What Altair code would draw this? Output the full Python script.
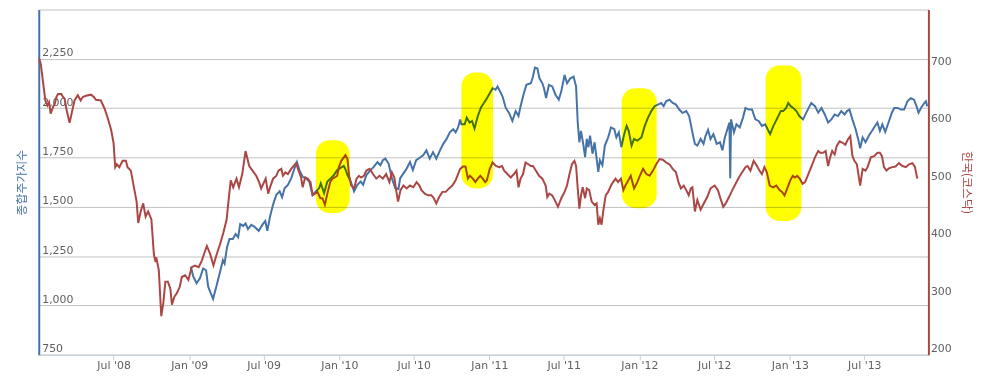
import altair as alt
import pandas as pd

# KOSPI (left axis, 종합주가지수)
KOSPI = [
    ("2009-01-05", 1195), ("2009-01-11", 1145), ("2009-01-19", 1112), ("2009-01-27", 1137),
    ("2009-02-04", 1187), ("2009-02-11", 1178), ("2009-02-16", 1096), ("2009-02-22", 1063),
    ("2009-02-28", 1033), ("2009-03-08", 1096), ("2009-03-16", 1162), ("2009-03-24", 1229),
    ("2009-03-28", 1212), ("2009-04-03", 1295), ("2009-04-09", 1337), ("2009-04-17", 1337),
    ("2009-04-24", 1362), ("2009-04-30", 1345), ("2009-05-05", 1412), ("2009-05-12", 1403),
    ("2009-05-18", 1415), ("2009-05-24", 1387), ("2009-06-01", 1408), ("2009-06-09", 1398),
    ("2009-06-19", 1378), ("2009-06-29", 1412), ("2009-07-05", 1428), ("2009-07-10", 1378),
    ("2009-07-16", 1445), ("2009-07-24", 1511), ("2009-08-01", 1561), ("2009-08-09", 1578),
    ("2009-08-15", 1548), ("2009-08-21", 1594), ("2009-08-29", 1611), ("2009-09-06", 1644),
    ("2009-09-14", 1694), ("2009-09-20", 1727), ("2009-09-26", 1686), ("2009-10-04", 1652),
    ("2009-10-12", 1644), ("2009-10-20", 1628), ("2009-10-28", 1561), ("2009-11-05", 1578),
    ("2009-11-13", 1594), ("2009-11-17", 1619), ("2009-11-25", 1569), ("2009-12-03", 1628),
    ("2009-12-11", 1644), ("2009-12-19", 1661), ("2009-12-27", 1686),
    ("2010-01-04", 1697), ("2010-01-12", 1707), ("2010-01-16", 1690), ("2010-01-21", 1661),
    ("2010-01-29", 1628), ("2010-02-06", 1578), ("2010-02-14", 1611), ("2010-02-22", 1628),
    ("2010-02-28", 1611), ("2010-03-08", 1661), ("2010-03-18", 1686), ("2010-03-26", 1702),
    ("2010-04-04", 1727), ("2010-04-11", 1711), ("2010-04-17", 1736), ("2010-04-23", 1744),
    ("2010-05-01", 1719), ("2010-05-09", 1644), ("2010-05-17", 1594), ("2010-05-25", 1590),
    ("2010-05-29", 1644), ("2010-06-06", 1669), ("2010-06-14", 1694), ("2010-06-22", 1727),
    ("2010-06-29", 1686), ("2010-07-07", 1736), ("2010-07-15", 1747), ("2010-07-24", 1761),
    ("2010-08-01", 1786), ("2010-08-09", 1744), ("2010-08-17", 1777), ("2010-08-25", 1744),
    ("2010-09-03", 1786), ("2010-09-11", 1819), ("2010-09-19", 1844), ("2010-09-27", 1877),
    ("2010-10-05", 1893), ("2010-10-11", 1877), ("2010-10-17", 1902), ("2010-10-22", 1943),
    ("2010-10-25", 1918), ("2010-11-02", 1918), ("2010-11-07", 1952), ("2010-11-14", 1927),
    ("2010-11-20", 1935), ("2010-11-26", 1897), ("2010-12-04", 1960), ("2010-12-12", 2005),
    ("2010-12-20", 2030), ("2010-12-24", 2043),
    ("2011-01-02", 2076), ("2011-01-09", 2101), ("2011-01-16", 2093), ("2011-01-21", 2110),
    ("2011-01-27", 2085), ("2011-02-02", 2060), ("2011-02-10", 2001), ("2011-02-18", 1976),
    ("2011-02-26", 1935), ("2011-03-06", 1985), ("2011-03-13", 1960), ("2011-03-18", 2010),
    ("2011-03-26", 2076), ("2011-04-01", 2118), ("2011-04-12", 2126), ("2011-04-17", 2159),
    ("2011-04-22", 2206), ("2011-04-28", 2201), ("2011-05-03", 2151), ("2011-05-10", 2126),
    ("2011-05-14", 2101), ("2011-05-19", 2051), ("2011-05-26", 2118), ("2011-06-03", 2110),
    ("2011-06-11", 2068), ("2011-06-19", 2043), ("2011-06-25", 2085), ("2011-07-03", 2168),
    ("2011-07-09", 2126), ("2011-07-17", 2151), ("2011-07-25", 2159), ("2011-07-31", 2110),
    ("2011-08-04", 1927), ("2011-08-08", 1827), ("2011-08-12", 1885), ("2011-08-18", 1810),
    ("2011-08-22", 1752), ("2011-08-26", 1844), ("2011-08-30", 1802), ("2011-09-03", 1860),
    ("2011-09-09", 1769), ("2011-09-14", 1827), ("2011-09-19", 1744), ("2011-09-23", 1677),
    ("2011-09-27", 1736), ("2011-10-03", 1711), ("2011-10-09", 1810), ("2011-10-17", 1852),
    ("2011-10-24", 1902), ("2011-11-01", 1893), ("2011-11-06", 1852), ("2011-11-12", 1877),
    ("2011-11-18", 1802), ("2011-11-25", 1868), ("2011-12-01", 1910), ("2011-12-06", 1885),
    ("2011-12-13", 1810), ("2011-12-19", 1844), ("2011-12-27", 1835),
    ("2012-01-06", 1852), ("2012-01-14", 1910), ("2012-01-22", 1952), ("2012-01-30", 1985),
    ("2012-02-07", 2010), ("2012-02-15", 2018), ("2012-02-23", 2026), ("2012-02-29", 2010),
    ("2012-03-06", 2035), ("2012-03-14", 2043), ("2012-03-22", 2026), ("2012-03-30", 2018),
    ("2012-04-07", 1993), ("2012-04-15", 1976), ("2012-04-24", 1985), ("2012-05-01", 1960),
    ("2012-05-09", 1877), ("2012-05-15", 1819), ("2012-05-21", 1810), ("2012-05-29", 1844),
    ("2012-06-05", 1819), ("2012-06-10", 1860), ("2012-06-16", 1890), ("2012-06-22", 1844),
    ("2012-06-29", 1868), ("2012-07-07", 1819), ("2012-07-15", 1827), ("2012-07-21", 1786),
    ("2012-07-27", 1852), ("2012-08-02", 1893), ("2012-08-07", 1927), ("2012-08-09", 1644),
    ("2012-08-11", 1943), ("2012-08-18", 1877), ("2012-08-24", 1918), ("2012-09-01", 1902),
    ("2012-09-09", 1952), ("2012-09-15", 2001), ("2012-09-23", 1993), ("2012-10-01", 1993),
    ("2012-10-09", 1943), ("2012-10-17", 1935), ("2012-10-25", 1910), ("2012-11-02", 1918),
    ("2012-11-08", 1893), ("2012-11-14", 1868), ("2012-11-22", 1910), ("2012-11-30", 1943),
    ("2012-12-10", 1985), ("2012-12-16", 1985), ("2012-12-23", 2001), ("2012-12-28", 2026),
    ("2013-01-03", 2010), ("2013-01-09", 2001), ("2013-01-17", 1985), ("2013-01-24", 1960),
    ("2013-02-02", 1943), ("2013-02-10", 1977), ("2013-02-18", 2010), ("2013-02-22", 2026),
    ("2013-03-03", 2010), ("2013-03-11", 1977), ("2013-03-19", 2001), ("2013-03-27", 1968),
    ("2013-04-04", 1927), ("2013-04-12", 1943), ("2013-04-20", 1968), ("2013-04-28", 1960),
    ("2013-05-06", 1985), ("2013-05-14", 1968), ("2013-05-20", 1985), ("2013-05-26", 1993),
    ("2013-06-02", 1943), ("2013-06-10", 1893), ("2013-06-16", 1844), ("2013-06-21", 1797),
    ("2013-06-27", 1852), ("2013-07-04", 1827), ("2013-07-12", 1860), ("2013-07-20", 1885),
    ("2013-07-25", 1902), ("2013-08-02", 1927), ("2013-08-08", 1885), ("2013-08-14", 1918),
    ("2013-08-21", 1880), ("2013-08-29", 1927), ("2013-09-06", 1977), ("2013-09-12", 2001),
    ("2013-09-20", 2001), ("2013-09-28", 1993), ("2013-10-06", 1993), ("2013-10-14", 2035),
    ("2013-10-22", 2051), ("2013-10-30", 2043), ("2013-11-05", 2010), ("2013-11-10", 1977),
    ("2013-11-16", 2001), ("2013-11-24", 2026), ("2013-11-28", 2035), ("2013-12-01", 2010),
]

# KOSDAQ (right axis, 한국(코스닥))
KOSDAQ = [
    ("2008-01-02", 715), ("2008-01-06", 705), ("2008-01-17", 642), ("2008-01-22", 633),
    ("2008-01-26", 639), ("2008-01-30", 619), ("2008-02-05", 631), ("2008-02-09", 636),
    ("2008-02-13", 648), ("2008-02-17", 653), ("2008-02-25", 653), ("2008-02-29", 648),
    ("2008-03-04", 645), ("2008-03-08", 628), ("2008-03-16", 603), ("2008-03-20", 616),
    ("2008-03-28", 642), ("2008-04-05", 651), ("2008-04-12", 642), ("2008-04-17", 648),
    ("2008-04-25", 650), ("2008-05-07", 652), ("2008-05-14", 648), ("2008-05-19", 643),
    ("2008-05-31", 642), ("2008-06-09", 628), ("2008-06-17", 611), ("2008-06-25", 591),
    ("2008-07-01", 568), ("2008-07-05", 526), ("2008-07-09", 531), ("2008-07-15", 526),
    ("2008-07-23", 537), ("2008-07-31", 537), ("2008-08-04", 526), ("2008-08-12", 520),
    ("2008-08-20", 489), ("2008-08-26", 466), ("2008-08-30", 429), ("2008-09-05", 449),
    ("2008-09-11", 463), ("2008-09-17", 440), ("2008-09-23", 449), ("2008-10-01", 435),
    ("2008-10-07", 375), ("2008-10-11", 361), ("2008-10-13", 369), ("2008-10-19", 347),
    ("2008-10-25", 267), ("2008-10-30", 290), ("2008-11-04", 327), ("2008-11-10", 327),
    ("2008-11-16", 315), ("2008-11-20", 287), ("2008-11-26", 301), ("2008-12-02", 307),
    ("2008-12-09", 318), ("2008-12-14", 335), ("2008-12-22", 338), ("2008-12-30", 330),
    ("2009-01-07", 352), ("2009-01-15", 355), ("2009-01-24", 352), ("2009-02-01", 364),
    ("2009-02-06", 375), ("2009-02-13", 389), ("2009-02-21", 375), ("2009-03-01", 355),
    ("2009-03-09", 375), ("2009-03-17", 392), ("2009-03-25", 412), ("2009-04-02", 435),
    ("2009-04-08", 477), ("2009-04-12", 503), ("2009-04-18", 491), ("2009-04-26", 506),
    ("2009-05-02", 491), ("2009-05-10", 514), ("2009-05-18", 554), ("2009-05-27", 528),
    ("2009-06-04", 520), ("2009-06-13", 511), ("2009-06-20", 500), ("2009-06-25", 489),
    ("2009-07-06", 506), ("2009-07-12", 480), ("2009-07-18", 494), ("2009-07-24", 506),
    ("2009-08-01", 511), ("2009-08-06", 520), ("2009-08-13", 523), ("2009-08-17", 511),
    ("2009-08-23", 517), ("2009-08-29", 514), ("2009-09-06", 523), ("2009-09-12", 528),
    ("2009-09-18", 533), ("2009-09-24", 520), ("2009-09-30", 508), ("2009-10-04", 491),
    ("2009-10-10", 508), ("2009-10-16", 506), ("2009-10-23", 500), ("2009-10-28", 477),
    ("2009-11-03", 480), ("2009-11-09", 483), ("2009-11-16", 472), ("2009-11-21", 472),
    ("2009-11-27", 461), ("2009-12-03", 480), ("2009-12-10", 500), ("2009-12-15", 506),
    ("2009-12-21", 508), ("2009-12-27", 511), ("2009-12-31", 526),
    ("2010-01-06", 537), ("2010-01-12", 543), ("2010-01-16", 547), ("2010-01-21", 540),
    ("2010-01-25", 511), ("2010-01-30", 494), ("2010-02-06", 489), ("2010-02-12", 506),
    ("2010-02-18", 511), ("2010-02-23", 508), ("2010-03-02", 511), ("2010-03-08", 520),
    ("2010-03-16", 523), ("2010-03-24", 514), ("2010-04-01", 506), ("2010-04-09", 511),
    ("2010-04-17", 506), ("2010-04-25", 514), ("2010-05-03", 500), ("2010-05-09", 517),
    ("2010-05-15", 508), ("2010-05-20", 483), ("2010-05-24", 466), ("2010-05-30", 486),
    ("2010-06-06", 494), ("2010-06-14", 489), ("2010-06-22", 494), ("2010-06-30", 491),
    ("2010-07-08", 500), ("2010-07-15", 494), ("2010-07-20", 486), ("2010-07-28", 480),
    ("2010-08-05", 477), ("2010-08-13", 477), ("2010-08-19", 472), ("2010-08-25", 463),
    ("2010-09-01", 474), ("2010-09-09", 483), ("2010-09-17", 483), ("2010-09-25", 489),
    ("2010-10-03", 494), ("2010-10-11", 503), ("2010-10-17", 514), ("2010-10-22", 523),
    ("2010-10-29", 527), ("2010-11-04", 527), ("2010-11-10", 506), ("2010-11-15", 511),
    ("2010-11-22", 506), ("2010-11-28", 500), ("2010-12-04", 506), ("2010-12-10", 511),
    ("2010-12-16", 506), ("2010-12-22", 500), ("2010-12-26", 503),
    ("2011-01-02", 523), ("2011-01-09", 534), ("2011-01-17", 528), ("2011-01-25", 526),
    ("2011-02-01", 528), ("2011-02-06", 520), ("2011-02-14", 514), ("2011-02-22", 508),
    ("2011-03-02", 514), ("2011-03-08", 520), ("2011-03-13", 491), ("2011-03-18", 506),
    ("2011-03-24", 514), ("2011-03-30", 534), ("2011-04-06", 531), ("2011-04-12", 528),
    ("2011-04-17", 528), ("2011-04-24", 520), ("2011-05-02", 511), ("2011-05-10", 506),
    ("2011-05-18", 494), ("2011-05-22", 474), ("2011-05-27", 480), ("2011-06-03", 477),
    ("2011-06-11", 466), ("2011-06-17", 457), ("2011-06-25", 472), ("2011-07-03", 483),
    ("2011-07-09", 494), ("2011-07-15", 514), ("2011-07-21", 531), ("2011-07-27", 537),
    ("2011-07-31", 528), ("2011-08-04", 489), ("2011-08-08", 454), ("2011-08-12", 477),
    ("2011-08-16", 491), ("2011-08-22", 472), ("2011-08-26", 489), ("2011-09-01", 486),
    ("2011-09-07", 466), ("2011-09-14", 460), ("2011-09-19", 463), ("2011-09-23", 426),
    ("2011-09-27", 437), ("2011-10-01", 426), ("2011-10-05", 449), ("2011-10-11", 477),
    ("2011-10-17", 483), ("2011-10-24", 494), ("2011-10-29", 500), ("2011-11-04", 506),
    ("2011-11-10", 500), ("2011-11-17", 506), ("2011-11-23", 486), ("2011-11-28", 494),
    ("2011-12-05", 503), ("2011-12-11", 511), ("2011-12-19", 489), ("2011-12-27", 500),
    ("2012-01-02", 511), ("2012-01-10", 523), ("2012-01-18", 514), ("2012-01-26", 511),
    ("2012-02-03", 520), ("2012-02-11", 531), ("2012-02-19", 540), ("2012-02-27", 539),
    ("2012-03-06", 534), ("2012-03-14", 531), ("2012-03-22", 523), ("2012-03-30", 517),
    ("2012-04-05", 500), ("2012-04-11", 489), ("2012-04-18", 494), ("2012-04-24", 486),
    ("2012-04-30", 477), ("2012-05-05", 489), ("2012-05-09", 491), ("2012-05-15", 449),
    ("2012-05-21", 469), ("2012-05-29", 452), ("2012-06-05", 462), ("2012-06-14", 474),
    ("2012-06-22", 489), ("2012-07-02", 494), ("2012-07-10", 486), ("2012-07-16", 472),
    ("2012-07-23", 457), ("2012-07-29", 463), ("2012-08-06", 474), ("2012-08-14", 486),
    ("2012-08-22", 497), ("2012-08-30", 508), ("2012-09-07", 517), ("2012-09-15", 526),
    ("2012-09-20", 528), ("2012-09-27", 520), ("2012-10-05", 537), ("2012-10-13", 528),
    ("2012-10-19", 520), ("2012-10-25", 514), ("2012-10-31", 526), ("2012-11-06", 517),
    ("2012-11-13", 494), ("2012-11-21", 491), ("2012-11-29", 494), ("2012-12-07", 486),
    ("2012-12-13", 483), ("2012-12-19", 477), ("2012-12-24", 486),
    ("2013-01-02", 503), ("2013-01-08", 511), ("2013-01-13", 508), ("2013-01-19", 511),
    ("2013-01-25", 506), ("2013-02-01", 497), ("2013-02-07", 500), ("2013-02-15", 514),
    ("2013-02-23", 528), ("2013-03-03", 543), ("2013-03-11", 554), ("2013-03-16", 551),
    ("2013-03-23", 551), ("2013-03-29", 554), ("2013-04-04", 528), ("2013-04-09", 543),
    ("2013-04-14", 554), ("2013-04-20", 548), ("2013-04-25", 563), ("2013-05-02", 571),
    ("2013-05-10", 568), ("2013-05-16", 565), ("2013-05-22", 574), ("2013-05-28", 580),
    ("2013-06-02", 546), ("2013-06-07", 537), ("2013-06-13", 531), ("2013-06-21", 494),
    ("2013-06-27", 523), ("2013-07-04", 520), ("2013-07-09", 526), ("2013-07-17", 543),
    ("2013-07-25", 545), ("2013-08-02", 551), ("2013-08-08", 551), ("2013-08-13", 545),
    ("2013-08-18", 526), ("2013-08-24", 520), ("2013-08-30", 524), ("2013-09-07", 526),
    ("2013-09-15", 527), ("2013-09-23", 533), ("2013-10-02", 528), ("2013-10-10", 526),
    ("2013-10-18", 531), ("2013-10-26", 533), ("2013-11-01", 527), ("2013-11-07", 506),
]

# Hand-drawn highlighter marks (date span, in left-axis units)
HL_START = ["2009-11-05", "2010-10-25", "2011-11-19", "2012-11-03"]
HL_END = ["2010-01-26", "2011-01-10", "2012-02-12", "2013-01-29"]
HL_HIGH = [1837, 2181, 2101, 2216]
HL_LOW = [1468, 1593, 1493, 1428]

X_TICKS = ["2008-07-01", "2009-01-01", "2009-07-01", "2010-01-01", "2010-07-01",
           "2011-01-01", "2011-07-01", "2012-01-01", "2012-07-01", "2013-01-01",
           "2013-07-01"]
X_DOMAIN = ["2008-01-01", "2013-12-04"]
LEFT_DOMAIN = [750, 2500]
LEFT_TICKS = [750, 1000, 1250, 1500, 1750, 2000, 2250, 2500]
RIGHT_DOMAIN = [200, 800]
RIGHT_TICKS = [200, 300, 400, 500, 600, 700]

BLUE = "#4572A7"
RED = "#AA4643"


def dt(s):
    return alt.DateTime(year=int(s[:4]), month=int(s[5:7]), date=int(s[8:10]), utc=True)


kospi_df = pd.DataFrame(KOSPI, columns=["date", "value"])
kosdaq_df = pd.DataFrame(KOSDAQ, columns=["date", "value"])
hl_df = pd.DataFrame({"start": HL_START, "end": HL_END, "high": HL_HIGH, "low": HL_LOW})

x_scale = alt.Scale(type="utc", domain=[dt(X_DOMAIN[0]), dt(X_DOMAIN[1])])
x_axis = alt.Axis(
    title=None, values=[dt(s) for s in X_TICKS],
    labelExpr="utcFormat(datum.value, \"%b '%y\")",
    grid=False, tickSize=5, tickColor="#c0d0e0", domainColor="#c0d0e0",
    labelPadding=0, labelFlush=False, labelOverlap=False,
)

left_axis = alt.Axis(
    title="종합주가지수", orient="left", values=LEFT_TICKS,
    labelExpr="datum.value == 2500 ? '' : format(datum.value, ',')",
    labelAlign="left", labelPadding=-3, labelBaseline="alphabetic", labelOffset=-3,
    ticks=False, domainColor=BLUE, domainWidth=2,
    grid=True, gridColor="#c0c0c0", gridWidth=1,
    titleColor=BLUE, titleX=-17, titleY=174, titleAngle=-90,
    titleAlign="center", titleBaseline="middle",
)
right_axis = alt.Axis(
    title="한국(코스닥)", orient="right", values=RIGHT_TICKS,
    labelExpr="format(datum.value, 'd')",
    labelAlign="left", labelPadding=2, labelBaseline="alphabetic", labelOffset=-3,
    ticks=False, domainColor=RED, domainWidth=2, grid=False,
    titleColor=RED, titleX=38, titleY=174, titleAngle=90,
    titleAlign="center", titleBaseline="middle",
)

blue_line = alt.Chart(kospi_df).mark_line(color=BLUE, strokeWidth=2).encode(
    x=alt.X("date:T", scale=x_scale, axis=x_axis),
    y=alt.Y("value:Q", scale=alt.Scale(domain=LEFT_DOMAIN, nice=False, zero=False), axis=left_axis),
)
red_line = alt.Chart(kosdaq_df).mark_line(color=RED, strokeWidth=2).encode(
    x=alt.X("date:T", scale=x_scale, axis=x_axis),
    y=alt.Y("value:Q", scale=alt.Scale(domain=RIGHT_DOMAIN, nice=False, zero=False), axis=right_axis),
)
highlights = alt.Chart(hl_df).mark_rect(color="#ffff00", blend="multiply", cornerRadius=14).encode(
    x=alt.X("start:T", scale=x_scale, axis=x_axis),
    x2="end:T",
    y=alt.Y("high:Q", scale=alt.Scale(domain=LEFT_DOMAIN, nice=False, zero=False), axis=None),
    y2="low:Q",
)

chart = alt.layer(blue_line, red_line, highlights).resolve_scale(
    y="independent"
).properties(
    width=897, height=348,
    autosize=alt.AutoSizeParams(type="none"),
    padding={"left": 31, "top": 0, "right": 50, "bottom": 25},
).configure_view(stroke=None).configure_axis(
    labelFont="DejaVu Sans", labelFontSize=11, labelColor="#606060",
    titleFont="Noto Sans CJK KR", titleFontSize=12, titleFontWeight="normal",
)

chart.save("out.html", embed_options={"renderer": "svg", "actions": False})
